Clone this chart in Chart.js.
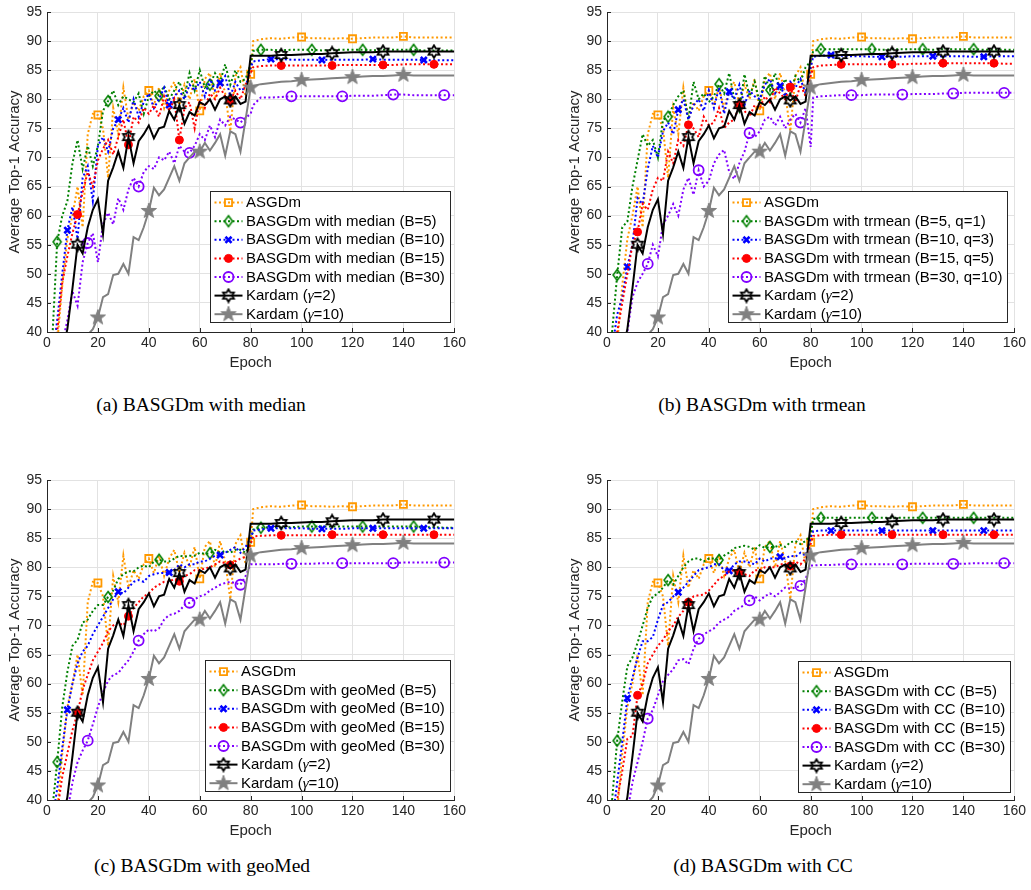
<!DOCTYPE html>
<html><head><meta charset="utf-8">
<script src="https://cdn.jsdelivr.net/npm/chart.js@4/dist/chart.umd.min.js"></script>
<style>
body{margin:0;background:#fff;width:1031px;height:890px;position:relative;overflow:hidden}
canvas{position:absolute}
.cap{position:absolute;font-family:"Liberation Serif","Times New Roman",serif;font-size:19.5px;color:#000;white-space:nowrap;transform:translateX(-50%);line-height:20px}
</style></head><body>
<canvas id="ca" width="470" height="375" style="left:0px;top:0px"></canvas>
<canvas id="cb" width="470" height="375" style="left:560px;top:0px"></canvas>
<canvas id="cc" width="470" height="375" style="left:0px;top:468px"></canvas>
<canvas id="cd" width="470" height="375" style="left:560px;top:468px"></canvas>
<div class="cap" style="left:201px;top:395px">(a) BASGDm with median</div>
<div class="cap" style="left:762px;top:395px">(b) BASGDm with trmean</div>
<div class="cap" style="left:202px;top:856px">(c) BASGDm with geoMed</div>
<div class="cap" style="left:763px;top:856px">(d) BASGDm with CC</div>
<script>
const EPOCHS = [2,4,6,8,10,12,14,16,18,20,22,24,26,28,30,32,34,36,38,40,42,44,46,48,50,52,54,56,58,60,62,64,66,68,70,72,74,76,78,80,81,84,88,92,96,100,104,108,112,116,120,124,128,132,136,140,144,148,152,156,160];
const X_TICKS = [0,20,40,60,80,100,120,140,160];
const Y_TICKS = [40,45,50,55,60,65,70,75,80,85,90,95];

// shared series
const ASGDM = [30,38,48,56,60,65,58,74,77.5,77.3, 75,66.5,78.5,74,82,76.5,79.5,78,80.5,81.5, 79,82,78.5,81.5,83,79,82.5,80,83.5,78, 83.5,84.5,80,84.5,81,74.5,84,85.5,80.5,84.3, 90, 90.3,90.5,90.4,90.6,90.7,90.5,90.5,90.4,90.5,90.4,90.5,90.6,90.6,90.6,90.8,90.6,90.6,90.6,90.6,90.6];
const KARDAM_G2 = [30,33,36.5,40.5,47.5,55,53.5,58,61,62.8, 56.8,66,68.3,71,68.2,73.5,69,72.8,74,75.5, 73.3,75,75.3,78,76.5,79,75.8,77.8,77.2,79.5, 79,80,78.2,80,80.5,79.8,80.5,79.2,79.6,87.5, 87.5, 87.5,87.5,87.6,87.6,87.7,87.8,87.8,87.9,88,88.1,88.1,88.1,88.2,88.2,88.2,88.2,88.2,88.2,88.2,88.2];
const KARDAM_G10 = [20,22,25,28,30,32,35,39.5,40.5,42.5, 46,46.5,49.8,50,51.7,50,56.3,55.8,58,60.8, 64.8,63.5,64.5,66.5,68.5,66,69,70,71,71, 72.5,71.2,72.5,74,70.3,74.5,74,71,76.5,82, 82.3, 82.6,82.8,83,83.1,83.3,83.4,83.5,83.6,83.7,83.8,83.9,84,84,84.1,84.2,84.1,84.1,84.1,84.1,84.1];

// (a) median
const MEDIAN_B5 = [38,55.5,60,62.5,69,73,68,72,68.5,72, 78,79.7,81.5,79,80.5,80,79.5,81,77.5,80.5, 81.5,80.6,82.3,80,81.5,83,80.5,84.5,81.5,85, 82,82.5,84.5,83,86,82.5,85,83,83.5,86, 88.3, 88.5,88.5,88.4,88.5,88.5,88.5,88.4,88.5,88.5,88.5,88.5,88.4,88.5,88.5,88.5,88.5,88.4,88.4,88.4,88.4];
const MEDIAN_B10 = [35,42,50,57.5,61.5,56,66.5,68.5,62.5,72, 73.5,71,75,76.5,78.5,76,80,77,79.5,81, 78.5,80,82,79,80.5,81.5,80,82.5,81.5,83, 80.5,83.5,81.5,82.8,84,80.5,83,81.5,82,85.5, 86.5, 86.7,86.9,86.9,86.8,86.8,86.8,86.75,86.8,86.8,86.8,86.8,86.9,86.8,86.8,86.8,86.8,86.75,86.7,86.7,86.7];
const MEDIAN_B15 = [32,40,48.5,53,57,60.2,64,67.5,65,69.5, 71.5,73,70.5,73.5,76.5,72.2,77,76,78.5,77.5, 79,77,80.5,78,80,73,78.5,79.5,75,80, 78.5,81,80,82,80.5,79.8,81.5,80,82.5,84.5, 85.5, 85.7,85.8,85.8,85.8,85.8,85.8,85.8,85.8,85.9,85.9,85.9,85.9,85.9,85.9,86,86,86,86,86,86];
const MEDIAN_B30 = [25,32,38,42,47,44.5,52,55.3,57,52, 58.5,60.5,58.5,63,61,64.5,66.5,65,67.5,68.5, 68,70,69.5,71,69,72,71,70.8,72,74, 73,75.5,73.5,76.5,75.5,77,76.5,76,76.8,77.5, 79, 80.3,80.3,80.4,80.5,80.5,80.5,80.5,80.5,80.5,80.6,80.6,80.6,80.7,80.8,80.8,80.7,80.7,80.7,80.7,80.7];

// (b) trmean
const TRMEAN_B5 = [40,49.8,58,59,65,69.5,74,72,73,70, 76.5,77,79,80.5,81.5,76.5,83,80,81,79.5, 80.5,82.6,81,84.5,80,78,84.3,80.5,83,79.5, 84,81.6,84.5,81.5,83.5,81,84,83,85.5,86.5, 88.3, 88.6,88.6,88.6,88.6,88.6,88.6,88.5,88.6,88.6,88.6,88.6,88.5,88.6,88.6,88.6,88.6,88.5,88.5,88.5,88.5];
const TRMEAN_B10 = [37,43,46,51.2,55,63,62,68,72,70, 74.5,76,74,78.2,80,76.5,79,80,78,81.5, 78.5,82,77.5,81.3,80,82.5,79,81.5,80.5,80, 82.5,83.5,81,82.3,80.5,83,82,83.5,81,85.5, 87.3, 87.5,87.6,87.5,87.4,87.4,87.3,87.3,87.3,87.3,87.4,87.4,87.4,87.4,87.4,87.4,87.3,87.3,87.4,87.4,87.4];
const TRMEAN_B15 = [33,40,45,50,55,57.2,62,61,64.5,66.5, 66,71,69,73,72,75.6,75,73.5,77,75.5, 76,78.5,75,76,76.5,79,78,77,79,78.5, 80.5,79.5,82,81,80,82.1,79.5,82.5,80.5,84, 85.5, 85.8,85.9,86,86,86,86,86,86,86,86.1,86.1,86.2,86.2,86.2,86.2,86.2,86.2,86.2,86.1,86.1];
const TRMEAN_B30 = [25,32,38,40,46,48.5,50,51.7,55,53, 58.5,60,62,60,64.5,66.5,63.6,67.8,65,66, 69,70.5,71.3,67.5,66.3,69,71,74.2,73.5,74.5, 76.5,77,75.5,77,75,76.5,77.5,76,78.5,71.8, 80.3, 80.5,80.6,80.7,80.7,80.7,80.8,80.8,80.8,80.8,80.9,80.9,80.9,81,81,81.1,81.1,81.1,81.1,81.1,81.1];

// (c) geoMed
const GEOMED_B5 = [38,46.5,56,62,66.5,67.5,70.5,71,72.5,73.5, 73.5,74.9,76,78,78.8,79.3,79.3,80,80.3,80, 81,81.3,81,81,81.5,82,81.8,82,82,82.5, 82.3,82.4,83,82.5,82.8,82.5,83,83,82.5,84, 86.5, 86.8,86.9,86.9,86.9,87,87,87,87,87,87,87,87,87,87,87,87,86.9,86.9,86.8,86.8];
const GEOMED_B10 = [36,42,49,55.5,60,63.5,65.5,66.5,68.5,70, 71.5,73,74.5,75.8,75.5,76.5,77.5,77.8,77.5,78.5, 78.8,79,79,79.1,79.5,80.5,80,80.5,80.5,81, 81,81.5,82,82.1,82.5,83,83.5,82.5,83.5,85, 86.3, 86.5,86.7,86.7,86.7,86.7,86.6,86.6,86.6,86.6,86.7,86.7,86.7,86.7,86.7,86.7,86.7,86.7,86.7,86.7,86.7];
const GEOMED_B15 = [33,38,44,48,52,54.9,59,61.5,64,65.5, 67,69,70,70.5,70,71.6,73,74,75,75.5, 76.5,77,77.5,77.5,78,77.6,78.5,78.8,79.5,79.5, 79.8,80,80.5,81,80.7,80.4,81,81.5,81.8,84, 85.3, 85.4,85.5,85.5,85.5,85.5,85.5,85.5,85.6,85.6,85.6,85.6,85.6,85.6,85.6,85.6,85.6,85.6,85.6,85.6,85.6];
const GEOMED_B30 = [25,30,35,38,43,46.5,48.5,50.2,53,56, 58.5,60.5,61.5,61.8,63,64,65.5,67.4,68.5,69.3, 69,69.5,71,71.8,72,72.5,73.5,73.9,74.5,75, 75.3,76,76.5,77,77.3,77.5,77.3,77,78.5,80.5, 80.5, 80.5,80.5,80.6,80.6,80.6,80.6,80.7,80.7,80.7,80.7,80.7,80.7,80.7,80.7,80.8,80.8,80.8,80.8,80.8,80.8];

// (d) CC
const CC_B5 = [40,50.2,57,63,64.5,67,70,73,75,75.5, 76.5,77.8,77,78.5,80,81,81.5,81.5,81,81.5, 81.5,81.25,82,82.5,83.3,83.5,83.7,83.5,83,83.8, 83.3,83.5,83.5,83.8,83.5,84.3,84.5,84,84.5,85.5, 88.3, 88.5,88.5,88.5,88.5,88.5,88.5,88.5,88.5,88.5,88.5,88.5,88.5,88.5,88.5,88.5,88.5,88.5,88.5,88.5,88.5];
const CC_B10 = [36,43,50,57.5,61,64.5,67.3,67.3,68,71, 73.5,74,75,75.7,76.5,77.5,78.5,79.5,79.8,80, 80.5,80.5,79.5,79.4,80.5,81,81,80.8,80.5,81.5, 81,81.5,81.5,81.8,81.5,82,81.8,82.5,82,85, 86.2, 86.3,86.3,86.3,86.3,86.3,86.3,86.3,86.3,86.3,86.3,86.3,86.3,86.3,86.3,86.3,86.3,86.3,86.3,86.3,86.3];
const CC_B15 = [35,40,45,50.5,51,58,60,63.5,65,66.5, 67.5,69,70,71.5,72.5,74,75,75.2,75.3,76, 77,78,78.5,79.3,79.5,79.1,78.8,78.5,79.5,79.5, 80,80,80,80.5,80.5,80.2,81,80.5,81.5,84, 85.4, 85.5,85.6,85.6,85.6,85.6,85.6,85.6,85.6,85.6,85.6,85.6,85.6,85.6,85.6,85.6,85.6,85.6,85.6,85.6,85.6];
const CC_B30 = [25,30,35,38,43,46.5,50,54,55.5,58, 60.5,61.5,62.5,64,64.2,63.3,66,67.7,68.5,69, 69.5,70.5,71,71.5,72.5,73,73.5,74.3,75,74.3, 75,75.5,75,75.7,76.5,76.3,76.5,76.8,78,80.3, 80.3, 80.4,80.4,80.5,80.5,80.5,80.5,80.5,80.5,80.5,80.6,80.6,80.6,80.6,80.6,80.6,80.7,80.7,80.7,80.7,80.7];

const NAMES_MEDIAN = ['ASGDm','BASGDm with median (B=5)','BASGDm with median (B=10)','BASGDm with median (B=15)','BASGDm with median (B=30)','Kardam (\u03b3=2)','Kardam (\u03b3=10)'];
const NAMES_TRMEAN = ['ASGDm','BASGDm with trmean (B=5, q=1)','BASGDm with trmean (B=10, q=3)','BASGDm with trmean (B=15, q=5)','BASGDm with trmean (B=30, q=10)','Kardam (\u03b3=2)','Kardam (\u03b3=10)'];
const NAMES_GEOMED = ['ASGDm','BASGDm with geoMed (B=5)','BASGDm with geoMed (B=10)','BASGDm with geoMed (B=15)','BASGDm with geoMed (B=30)','Kardam (\u03b3=2)','Kardam (\u03b3=10)'];
const NAMES_CC = ['ASGDm','BASGDm with CC (B=5)','BASGDm with CC (B=10)','BASGDm with CC (B=15)','BASGDm with CC (B=30)','Kardam (\u03b3=2)','Kardam (\u03b3=10)'];

const FONT = '"Liberation Sans", Arial, Helvetica, sans-serif';
const AXC = '#262626';

function mk(w,h){const c=document.createElement('canvas');c.width=w;c.height=h;return c;}
function diamondImg(color){const c=mk(12,16),g=c.getContext('2d');g.strokeStyle=color;g.lineWidth=1.6;g.beginPath();g.moveTo(6,2.5);g.lineTo(10,8);g.lineTo(6,13.5);g.lineTo(2,8);g.closePath();g.stroke();return c;}
function starImg(color,n,R,ri,filled,lw,size){const c=mk(size,size),g=c.getContext('2d');const cx=size/2,cy=size/2;g.beginPath();for(let k=0;k<2*n;k++){const a=-Math.PI/2+k*Math.PI/n;const rr=k%2?ri:R;const px=cx+rr*Math.cos(a),py=cy+rr*Math.sin(a);if(k)g.lineTo(px,py);else g.moveTo(px,py);}g.closePath();if(filled){g.fillStyle=color;g.fill();}g.strokeStyle=color;g.lineWidth=lw;g.lineJoin='miter';g.stroke();return c;}

const STYLES = [
 {color:'#FF9900', dash:[2,2.5], width:2, marker:'rect', r:5, mw:1.8, fill:'rgba(0,0,0,0)', start:20},
 {color:'#008000', dash:[2,2.5], width:2, marker:diamondImg('#008000'), r:5, mw:1.6, fill:'rgba(0,0,0,0)', start:4},
 {color:'#0000FF', dash:[2,2.5], width:2, marker:'crossRot', r:4.3, mw:2.6, fill:'#0000FF', start:8},
 {color:'#FF0000', dash:[2,2.5], width:2, marker:'circle', r:4, mw:1, fill:'#FF0000', start:12},
 {color:'#8000FF', dash:[2,2.5], width:2, marker:'circle', r:5, mw:1.8, fill:'rgba(0,0,0,0)', start:16},
 {color:'#000000', dash:[], width:2, marker:starImg('#000000',6,6.3,3.7,false,1.8,16), r:6, mw:1.8, fill:'rgba(0,0,0,0)', start:12},
 {color:'#808080', dash:[], width:2, marker:starImg('#808080',5,8,3.2,true,1,18), r:7, mw:1, fill:'#808080', start:20}
];

function isMarker(x,start){return x>=start && x<160 && (x-start)%20===0;}

function drawMarker(ctx,st,x,y){
  const m=st.marker;
  if(typeof m==='object'){ctx.drawImage(m,x-m.width/2,y-m.height/2);return;}
  ctx.save();ctx.setLineDash([]);ctx.strokeStyle=st.color;ctx.fillStyle=st.fill;ctx.lineWidth=st.mw;ctx.beginPath();
  if(m==='rect'){const s=st.r*Math.SQRT1_2;ctx.rect(x-s,y-s,2*s,2*s);ctx.fill();ctx.stroke();}
  else if(m==='circle'){ctx.arc(x,y,st.r,0,Math.PI*2);ctx.fill();ctx.stroke();}
  else if(m==='crossRot'){const o=st.r*Math.SQRT1_2;ctx.moveTo(x-o,y-o);ctx.lineTo(x+o,y+o);ctx.moveTo(x-o,y+o);ctx.lineTo(x+o,y-o);ctx.stroke();}
  ctx.restore();
}

const tickPlugin={id:'inTicks',afterDraw(chart){
  const {ctx,chartArea:a,scales}=chart;ctx.save();ctx.strokeStyle=AXC;ctx.lineWidth=1;ctx.beginPath();
  X_TICKS.forEach(v=>{const px=Math.round(scales.x.getPixelForValue(v))+0.5;ctx.moveTo(px,a.bottom);ctx.lineTo(px,a.bottom-4);});
  Y_TICKS.forEach(v=>{const py=Math.round(scales.y.getPixelForValue(v))+0.5;ctx.moveTo(a.left,py);ctx.lineTo(a.left+4,py);});
  ctx.stroke();ctx.restore();}};

const SANS15='15px '+FONT, GREEK15='italic 15px "Liberation Serif","Times New Roman",serif';
function drawLabel(ctx,text,x,y){
  const parts=text.split('\u03b3');
  let cx=x;
  parts.forEach((s,k)=>{
    if(k>0){ctx.font=GREEK15;ctx.fillText('\u03b3',cx,y);cx+=ctx.measureText('\u03b3').width;}
    ctx.font=SANS15;ctx.fillText(s,cx,y);cx+=ctx.measureText(s).width;
  });
}

function legendPluginFor(p){
  return {id:'boxLegend',afterDraw(chart){
    const ctx=chart.ctx;ctx.save();
    ctx.font=SANS15;
    let maxW=0;p.names.forEach(n=>{maxW=Math.max(maxW,ctx.measureText(n).width);});
    const x0=p.legend[0],y0=p.legend[1],w=Math.round(36+maxW+5),h=131;
    ctx.fillStyle='#fff';ctx.fillRect(x0,y0,w,h);
    ctx.strokeStyle=AXC;ctx.lineWidth=1;ctx.strokeRect(x0+0.5,y0+0.5,w,h);
    p.names.forEach((n,i)=>{
      const st=STYLES[i],cy=y0+11.6+i*18.6;
      ctx.setLineDash(st.dash);ctx.strokeStyle=st.color;ctx.lineWidth=st.width;
      ctx.beginPath();ctx.moveTo(x0+4.5,cy);ctx.lineTo(x0+32.5,cy);ctx.stroke();
      ctx.setLineDash([]);
      drawMarker(ctx,st,x0+18.5,cy);
      ctx.fillStyle='#000';ctx.textBaseline='middle';ctx.textAlign='left';drawLabel(ctx,n,x0+36,cy+0.5);
    });
    ctx.restore();}};
}

const PANELS=[
 {id:'ca',rules:[MEDIAN_B5,MEDIAN_B10,MEDIAN_B15,MEDIAN_B30],names:NAMES_MEDIAN,legend:[210,191]},
 {id:'cb',rules:[TRMEAN_B5,TRMEAN_B10,TRMEAN_B15,TRMEAN_B30],names:NAMES_TRMEAN,legend:[168,191]},
 {id:'cc',rules:[GEOMED_B5,GEOMED_B10,GEOMED_B15,GEOMED_B30],names:NAMES_GEOMED,legend:[205,192]},
 {id:'cd',rules:[CC_B5,CC_B10,CC_B15,CC_B30],names:NAMES_CC,legend:[238,193]}
];

PANELS.forEach(p=>{
  const all=[ASGDM].concat(p.rules,[KARDAM_G2,KARDAM_G10]);
  const datasets=all.map((vals,i)=>{
    const st=STYLES[i];
    return {
      label:p.names[i],
      data:EPOCHS.map((x,j)=>({x:x,y:vals[j]})),
      borderColor:st.color,backgroundColor:st.color,borderWidth:st.width,borderDash:st.dash,
      pointStyle:st.marker,
      pointRadius:c=>(c.raw&&isMarker(c.raw.x,st.start))?st.r:0,
      pointHoverRadius:0,pointBorderColor:st.color,pointBackgroundColor:st.fill,pointBorderWidth:st.mw,
      tension:0,fill:false,order:10-i
    };
  });
  new Chart(document.getElementById(p.id),{
    type:'line',
    data:{datasets:datasets},
    options:{
      responsive:false,animation:false,events:[],devicePixelRatio:1,
      layout:{padding:{top:7.5,right:13,left:0,bottom:0}},
      plugins:{legend:{display:false},tooltip:{enabled:false}},
      scales:{
        x:{type:'linear',min:0,max:160,
          afterBuildTicks:s=>{s.ticks=X_TICKS.map(v=>({value:v}));},
          afterFit:s=>{s.height=43;},
          ticks:{font:{family:FONT,size:14,lineHeight:1},color:AXC,padding:4,maxRotation:0,autoSkip:false},
          grid:{color:'#e2e2e2',drawTicks:false},
          border:{color:AXC,width:1},
          title:{display:true,text:'Epoch',font:{family:FONT,size:15},color:AXC,padding:{top:0,bottom:3}}},
        y:{type:'linear',min:40,max:95,
          afterBuildTicks:s=>{s.ticks=Y_TICKS.map(v=>({value:v}));},
          afterFit:s=>{s.width=47;},
          ticks:{font:{family:FONT,size:14,lineHeight:1},color:AXC,padding:5,autoSkip:false},
          grid:{color:'#e2e2e2',drawTicks:false},
          border:{color:AXC,width:1},
          title:{display:true,text:'Average Top-1 Accuracy',font:{family:FONT,size:15},color:AXC,padding:{top:6,bottom:0}}}
      }
    },
    plugins:[tickPlugin,legendPluginFor(p)]
  });
});
</script>
</body></html>
